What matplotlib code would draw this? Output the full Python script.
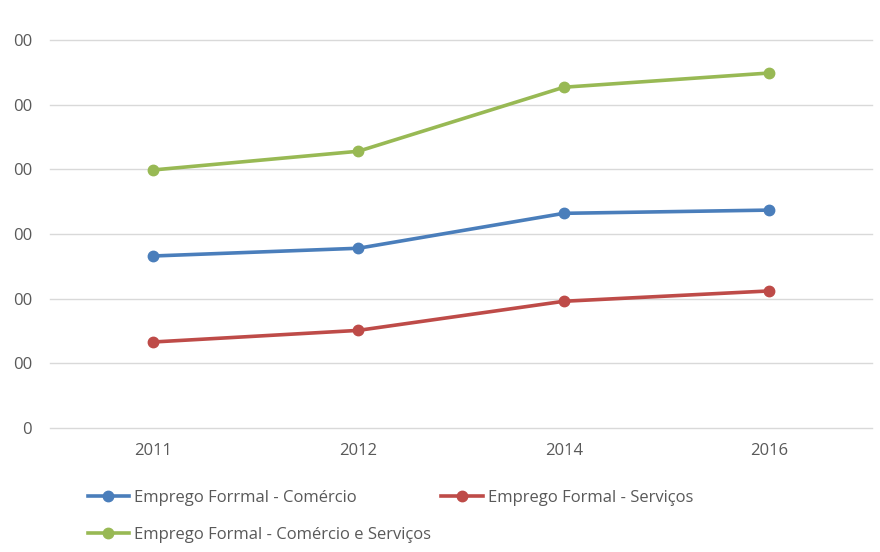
import matplotlib
matplotlib.use("Agg")
import matplotlib.pyplot as plt

# data (y read in gridline units, labels on the axis are cropped to "00")
years = ["2011", "2012", "2014", "2016"]
comercio = [2.66, 2.78, 3.32, 3.37]
servicos = [1.33, 1.51, 1.96, 2.12]
com_serv = [3.99, 4.28, 5.27, 5.49]
ytick_vals = [0, 1, 2, 3, 4, 5, 6]
ytick_labels = ["0", "00", "00", "00", "00", "00", "00"]

plt.rcParams["font.family"] = ["Open Sans", "DejaVu Sans"]

fig = plt.figure(figsize=(8.8, 5.52), dpi=100)
ax = fig.add_axes([0.057, 0.2246, 0.934, 0.7029])

x = range(len(years))
l1, = ax.plot(x, comercio, color="#4a7ebb", lw=2.6, marker="o", ms=7.5,
              label="Emprego Forrmal - Comércio")
l2, = ax.plot(x, servicos, color="#be4b48", lw=2.6, marker="o", ms=7.5,
              label="Emprego Formal - Serviços")
l3, = ax.plot(x, com_serv, color="#98b954", lw=2.6, marker="o", ms=7.5,
              label="Emprego Formal - Comércio e Serviços")

ax.set_xlim(-0.5, 3.5)
ax.set_ylim(0, 6)
ax.set_xticks(list(x))
ax.set_xticklabels(years)
ax.set_yticks(ytick_vals)
ax.set_yticklabels(ytick_labels)
ax.grid(axis="y", color="#d9d9d9", lw=1)
for gl in ax.get_ygridlines():
    gl.set_clip_on(False)
ax.set_axisbelow(True)
for s in ax.spines.values():
    s.set_visible(False)
ax.tick_params(axis="both", length=0, colors="#595959", labelsize=12)
ax.tick_params(axis="y", pad=13)
ax.tick_params(axis="x", pad=11)

# legend split in two blocks like the original
leg_kw = dict(loc="upper left", frameon=False, fontsize=12, handlelength=2.5,
              handletextpad=0.3, borderpad=0, labelcolor="#595959")
fig.legend(handles=[l1, l3], bbox_to_anchor=(0.09, 0.128), labelspacing=1.28, **leg_kw)
fig.legend(handles=[l2], bbox_to_anchor=(0.492, 0.128), **leg_kw)

fig.savefig("out.png", dpi=100)
